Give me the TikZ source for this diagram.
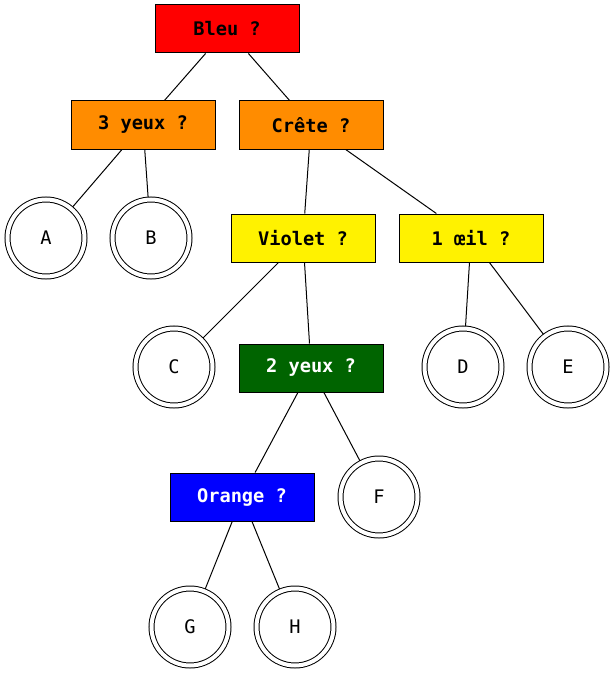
\documentclass[tikz,border=0pt]{standalone}
\usepackage{fontspec}
\setmonofont{DejaVu Sans Mono}
\definecolor{gvorange}{HTML}{FF8C00}
\definecolor{gvgreen}{HTML}{006400}
\begin{document}
\begin{tikzpicture}[x=1pt,y=-1pt,line width=1pt,
  qbox/.style={draw=black,rectangle,minimum width=144pt,minimum height=48pt,inner sep=0pt,
    font=\fontsize{18.67}{20}\ttfamily\bfseries},
  leaf/.style={draw=black,circle,minimum size=77pt,inner sep=0pt,double distance=4pt,outer sep=2.5pt,
    font=\fontsize{18.67}{20}\ttfamily},
  edge/.style={draw=black,line width=1pt}]
\useasboundingbox (0,0) rectangle (615,674);
\node[qbox,fill=red] (bleu) at (227,29) {Bleu ?};
\node[qbox,fill=gvorange] (y3) at (143,125) {3 yeux ?};
\node[qbox,fill=gvorange] (crete) at (311,125) {Crête ?};
\node[leaf] (A) at (46,238) {A};
\node[leaf] (B) at (151,238) {B};
\node[qbox,fill=yellow] (violet) at (303,238) {Violet ?};
\node[qbox,fill=yellow] (oeil) at (471,238) {1 œil ?};
\node[leaf] (C) at (174,367) {C};
\node[qbox,fill=gvgreen,text=white] (y2) at (311,368) {2 yeux ?};
\node[leaf] (D) at (463,367) {D};
\node[leaf] (E) at (568,367) {E};
\node[qbox,fill=blue,text=white] (orange) at (242,497) {Orange ?};
\node[leaf] (F) at (379,497) {F};
\node[leaf] (G) at (190,627) {G};
\node[leaf] (H) at (295,627) {H};
\draw[edge] (bleu) -- (y3);
\draw[edge] (bleu) -- (crete);
\draw[edge] (y3) -- (A);
\draw[edge] (y3) -- (B);
\draw[edge] (crete) -- (violet);
\draw[edge] (crete) -- (oeil);
\draw[edge] (violet) -- (C);
\draw[edge] (violet) -- (y2);
\draw[edge] (oeil) -- (D);
\draw[edge] (oeil) -- (E);
\draw[edge] (y2) -- (orange);
\draw[edge] (y2) -- (F);
\draw[edge] (orange) -- (G);
\draw[edge] (orange) -- (H);
\end{tikzpicture}
\end{document}
